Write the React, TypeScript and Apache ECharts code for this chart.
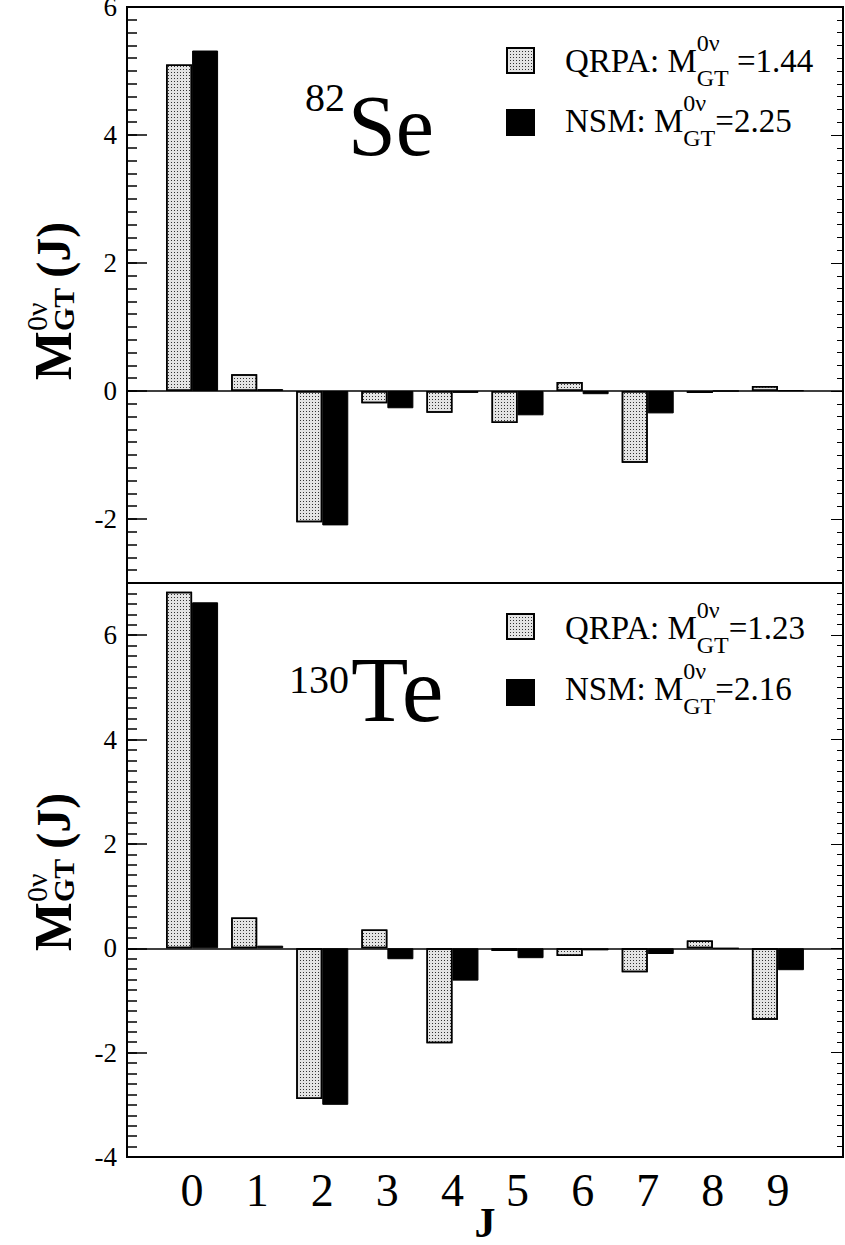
import React, { useEffect, useRef } from "react";
import * as echarts from "echarts";

const J = [0, 1, 2, 3, 4, 5, 6, 7, 8, 9];
const seQRPA = [5.1, 0.26, -2.05, -0.19, -0.34, -0.5, 0.14, -1.12, -0.03, 0.08];
const seNSM = [5.32, 0.03, -2.1, -0.27, -0.03, -0.38, -0.05, -0.35, 0.0, 0.01];
const teQRPA = [6.83, 0.59, -2.89, 0.36, -1.82, -0.05, -0.15, -0.46, 0.15, -1.37];
const teNSM = [6.63, 0.05, -3.0, -0.21, -0.62, -0.19, -0.04, -0.11, 0.0, -0.42];
const seTicks = [-2, 0, 2, 4, 6];
const teTicks = [-4, -2, 0, 2, 4, 6];

const FONT = "Liberation Serif";

const dotDecal = {
  symbol: "rect",
  symbolSize: 1,
  color: "#333",
  dashArrayX: [1, 2],
  dashArrayY: [1, 2],
  rotation: 0,
};

let measureCtx: CanvasRenderingContext2D | null = null;
function measure(text: string, font: string) {
  if (!measureCtx) measureCtx = document.createElement("canvas").getContext("2d");
  if (!measureCtx) return text.length * 12;
  measureCtx.font = font;
  return measureCtx.measureText(text).width;
}

function yAxes(grid: number, min: number, max: number, major: number[]) {
  const base = {
    gridIndex: grid,
    type: "value",
    min,
    max,
    splitLine: { show: false },
    axisLine: { show: false, onZero: false },
  };
  return [
    {
      ...base,
      position: "left",
      interval: 0.2,
      axisTick: { show: true, inside: true, length: 10, lineStyle: { color: "#000", width: 1.5 } },
      axisLabel: { show: false },
    },
    {
      ...base,
      position: "left",
      axisTick: { show: true, inside: true, length: 20, customValues: major, lineStyle: { color: "#000", width: 1.5 } },
      axisLabel: {
        show: true,
        customValues: major,
        fontSize: 27,
        lineHeight: 20,
        padding: [6, 0, 0, 0],
        fontFamily: FONT,
        color: "#000",
        margin: 10,
      },
    },
    {
      ...base,
      position: "right",
      interval: 0.2,
      axisTick: { show: true, inside: true, length: 6, lineStyle: { color: "#000", width: 1 } },
      axisLabel: { show: false },
    },
    {
      ...base,
      position: "right",
      axisTick: { show: true, inside: true, length: 12, customValues: major, lineStyle: { color: "#000", width: 1 } },
      axisLabel: { show: false },
    },
  ];
}

function barSeries(grid: number, yIdx: number, q: number[], n: number[]) {
  const zero = {
    silent: true,
    symbol: "none",
    label: { show: false },
    lineStyle: { color: "#000", type: "solid", width: 1.5 },
    data: [{ yAxis: 0 }],
  };
  return [
    {
      type: "bar",
      name: "QRPA",
      xAxisIndex: grid,
      yAxisIndex: yIdx,
      data: J.map((j, i) => [j, q[i]]),
      barWidth: 26,
      barGap: "0%",
      itemStyle: { color: "#e4e4e4", borderColor: "#000", borderWidth: 1.5, decal: dotDecal },
      markLine: zero,
    },
    {
      type: "bar",
      name: "NSM",
      xAxisIndex: grid,
      yAxisIndex: yIdx,
      data: J.map((j, i) => [j, n[i]]),
      barWidth: 26,
      barGap: "0%",
      itemStyle: { color: "#000", borderColor: "#000", borderWidth: 1 },
    },
  ];
}

function txt(x: number, y: number, text: string, font: string, align = "left") {
  return {
    type: "text",
    x,
    y,
    style: { text, font, fill: "#000", textAlign: align, textVerticalAlign: "middle" },
  };
}

function yName(cx: number, cy: number) {
  const fM = `bold 52px ${FONT}`;
  const fSup = `30px ${FONT}`;
  const fSub = `bold 30px ${FONT}`;
  const fJ = `bold 48px ${FONT}`;
  const wM = measure("M", fM);
  const wSub = Math.max(measure("GT", fSub), measure("0ν", fSup));
  const wJ = measure("(J)", fJ);
  const gap = 10;
  const total = wM + wSub + gap + wJ;
  const s = -total / 2;
  return {
    type: "group",
    x: cx,
    y: cy,
    rotation: Math.PI / 2,
    children: [
      txt(s, 0, "M", fM),
      txt(s + wM, -17, "0ν", fSup),
      txt(s + wM, 10, "GT", fSub),
      txt(s + wM + wSub + gap, 0, "(J)", fJ),
    ],
  };
}

function legendRow(y: number, label: string, value: string, space: boolean) {
  const f = `33px ${FONT}`;
  const s = `24px ${FONT}`;
  const x0 = 565;
  const xs = x0 + measure(label, f);
  const wSub = Math.max(measure("0ν", s), measure("GT", s));
  const xe = xs + wSub + (space ? measure(" ", f) : 0);
  return [
    txt(x0, y, label, f),
    txt(xs, y - 18, "0ν", s),
    txt(xs, y + 17, "GT", s),
    txt(xe, y, value, f),
  ];
}

export default function App() {
  const ref = useRef<HTMLDivElement>(null);
  useEffect(() => {
    if (!ref.current) return;
    const chart = echarts.init(ref.current, null, { renderer: "svg" });
    const legendCommon = {
      data: ["QRPA", "NSM"],
      left: 506,
      orient: "vertical",
      padding: 0,
      icon: "rect",
      itemWidth: 27,
      itemHeight: 25,
      selectedMode: false,
      formatter: () => "",
    };
    const gridCommon = {
      left: 127,
      width: 716,
      show: true,
      borderColor: "#000",
      borderWidth: 2,
      backgroundColor: "transparent",
      containLabel: false,
      outerBoundsMode: "none",
    };
    const option: any = {
      animation: false,
      backgroundColor: "#fff",
      textStyle: { fontFamily: FONT },
      grid: [
        { ...gridCommon, top: 7, height: 576 },
        { ...gridCommon, top: 583, height: 574 },
      ],
      xAxis: [
        {
          gridIndex: 0,
          type: "value",
          min: -1,
          max: 10,
          interval: 1,
          axisLine: { show: false, onZero: false },
          axisTick: { show: false },
          axisLabel: { show: false },
          splitLine: { show: false },
        },
        {
          gridIndex: 1,
          type: "value",
          min: -1,
          max: 10,
          interval: 1,
          axisLine: { show: false, onZero: false },
          axisTick: { show: false },
          splitLine: { show: false },
          axisLabel: {
            show: true,
            fontSize: 46,
            fontFamily: FONT,
            color: "#000",
            margin: 10,
            formatter: (v: number) => (v >= 0 && v <= 9 ? String(v) : ""),
          },
          name: "J",
          nameLocation: "middle",
          nameMoveOverlap: false,
          nameGap: 46,
          nameTextStyle: { fontSize: 42, lineHeight: 40, fontWeight: "bold", fontFamily: FONT, color: "#000" },
        },
      ],
      yAxis: [...yAxes(0, -3, 6, seTicks), ...yAxes(1, -4, 7, teTicks)],
      legend: [
        { ...legendCommon, top: 47, itemGap: 35 },
        { ...legendCommon, top: 613, itemGap: 39 },
      ],
      series: [...barSeries(0, 0, seQRPA, seNSM), ...barSeries(1, 4, teQRPA, teNSM)],
      graphic: [
        yName(53, 301),
        yName(53, 872),
        txt(305, 97, "82", `40px ${FONT}`),
        txt(348, 126, "Se", `86px ${FONT}`),
        txt(289, 679, "130", `40px ${FONT}`),
        txt(351, 689, "Te", `94px ${FONT}`),
        ...legendRow(61, "QRPA: M", "=1.44", true),
        ...legendRow(121, "NSM: M", "=2.25", false),
        ...legendRow(628, "QRPA: M", "=1.23", false),
        ...legendRow(689, "NSM: M", "=2.16", false),
      ],
    };
    chart.setOption(option);
    return () => chart.dispose();
  }, []);
  return (
    <div
      ref={ref}
      style={{ position: "absolute", left: 0, top: 0, width: 845, height: 1245 }}
    />
  );
}
